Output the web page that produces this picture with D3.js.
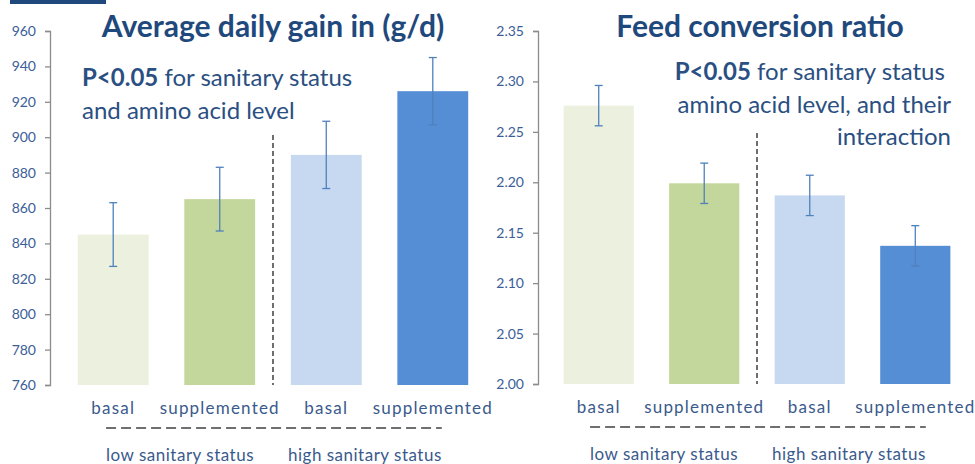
<!DOCTYPE html>
<html>
<head>
<meta charset="utf-8">
<script src="https://cdn.jsdelivr.net/npm/d3@7"></script>
<style>
  body { margin: 0; background: #fff; }
  svg { font-family: Lato, "Open Sans", sans-serif; }
</style>
</head>
<body>
<svg width="975" height="464"></svg>
<script>
// data
var treatments = ['basal', 'supplemented', 'basal', 'supplemented'];
var groups = ['low sanitary status', 'high sanitary status'];
var barColors = ['#ebf1de', '#c3d69b', '#c6d9f1', '#558ed5'];

var adgValues = [845, 865, 890, 926];
var adgErrors = [18, 18, 19, 19];
var adgTicks = [760, 780, 800, 820, 840, 860, 880, 900, 920, 940, 960];

var fcrValues = [2.276, 2.199, 2.187, 2.137];
var fcrErrors = [0.02, 0.02, 0.02, 0.02];
var fcrTicks = [2.00, 2.05, 2.10, 2.15, 2.20, 2.25, 2.30, 2.35];

var svg = d3.select('svg');

// small dark bar top left
svg.append('rect')
  .attr('x', 10).attr('y', 0).attr('width', 96).attr('height', 4)
  .attr('fill', '#1f497d');

function drawChart(opt) {
  var g = svg.append('g');
  var y = d3.scaleLinear().domain(opt.domain).range([opt.bottom, opt.top]);
  var x = d3.scaleBand()
    .domain(d3.range(treatments.length))
    .range(opt.xRange)
    .paddingInner(0.335)
    .paddingOuter(0.167);
  var bw = x.bandwidth();

  // axis
  var axis = d3.axisLeft(y).tickValues(opt.ticks).tickSize(5).tickPadding(9)
    .tickFormat(opt.fmt);
  var ax = g.append('g').attr('transform', 'translate(' + opt.axisX + ',0)').call(axis);
  ax.select('.domain').attr('stroke', '#8c8c8c').attr('stroke-width', 1.3);
  ax.selectAll('.tick line').attr('stroke', '#8c8c8c').attr('stroke-width', 1.3);
  ax.selectAll('.tick text')
    .attr('fill', '#3b5e98')
    .style('font-size', '14px')
    .style('font-family', 'Lato, sans-serif');

  // bars
  g.selectAll('rect.bar').data(opt.values).enter().append('rect')
    .attr('class', 'bar')
    .attr('x', function(d, i){ return x(i); })
    .attr('y', function(d){ return y(d); })
    .attr('width', bw)
    .attr('height', function(d){ return opt.bottom - y(d); })
    .attr('fill', function(d, i){ return barColors[i]; });

  // error bars
  var eb = g.selectAll('g.err').data(opt.values).enter().append('g')
    .attr('stroke', '#4f81bd').attr('stroke-width', 1.3);
  eb.append('line')
    .attr('x1', function(d, i){ return x(i) + bw / 2; })
    .attr('x2', function(d, i){ return x(i) + bw / 2; })
    .attr('y1', function(d, i){ return y(d + opt.errors[i]); })
    .attr('y2', function(d, i){ return y(d - opt.errors[i]); });
  [1, -1].forEach(function(s){
    eb.append('line')
      .attr('x1', function(d, i){ return x(i) + bw / 2 - 4; })
      .attr('x2', function(d, i){ return x(i) + bw / 2 + 4; })
      .attr('y1', function(d, i){ return y(d + s * opt.errors[i]); })
      .attr('y2', function(d, i){ return y(d + s * opt.errors[i]); });
  });

  // divider
  var divX = x(1) + bw + (x(2) - x(1) - bw) / 2;
  g.append('line')
    .attr('x1', divX).attr('x2', divX)
    .attr('y1', opt.divTop).attr('y2', opt.bottom)
    .attr('stroke', '#222').attr('stroke-width', 1.3)
    .attr('stroke-dasharray', '5,3');

  // treatment labels
  g.selectAll('text.treat').data(treatments).enter().append('text')
    .attr('x', function(d, i){ return x(i) + bw / 2; })
    .attr('y', opt.bottom + 29)
    .attr('text-anchor', 'middle')
    .attr('fill', '#3a5a8c')
    .style('font-size', '17px')
    .style('letter-spacing', '1.2px')
    .text(function(d){ return d; });

  // group labels
  var gy = opt.bottom + 76;
  var low = g.append('text')
    .attr('x', divX - 19).attr('y', gy)
    .attr('text-anchor', 'end')
    .attr('fill', '#3a5a8c')
    .style('font-size', '17px')
    .style('letter-spacing', '0.5px')
    .text(groups[0]);
  var high = g.append('text')
    .attr('x', divX + 15).attr('y', gy)
    .attr('text-anchor', 'start')
    .attr('fill', '#3a5a8c')
    .style('font-size', '17px')
    .style('letter-spacing', '0.5px')
    .text(groups[1]);
  var b0 = low.node().getBBox(), b1 = high.node().getBBox();
  g.append('line')
    .attr('x1', b0.x).attr('x2', b1.x + b1.width)
    .attr('y1', opt.bottom + 43).attr('y2', opt.bottom + 43)
    .attr('stroke', '#404040').attr('stroke-width', 1.5)
    .attr('stroke-dasharray', '10,5');

  // title
  g.append('text')
    .attr('x', opt.titleX).attr('y', 37)
    .attr('text-anchor', 'middle')
    .attr('fill', '#1f497d')
    .style('font-size', '30px')
    .style('font-weight', 'bold')
    .text(opt.title);

  // annotation
  opt.note.forEach(function(line, k){
    var t = g.append('text')
      .attr('x', opt.noteX).attr('y', opt.noteY + k * 32.5)
      .attr('text-anchor', opt.noteAnchor)
      .attr('fill', '#2a4f82')
      .style('font-size', '24px');
    line.forEach(function(part){
      t.append('tspan').style('font-weight', part.bold ? 'bold' : 'normal').text(part.t);
    });
  });
}

drawChart({
  domain: [760, 960], ticks: adgTicks, fmt: d3.format('d'),
  values: adgValues, errors: adgErrors,
  top: 31, bottom: 385, axisX: 50, xRange: [60, 486], divTop: 135,
  title: 'Average daily gain in (g/d)', titleX: 273,
  noteX: 82, noteY: 86, noteAnchor: 'start',
  note: [
    [{t: 'P<0.05', bold: true}, {t: ' for sanitary status'}],
    [{t: 'and amino acid level'}]
  ]
});

drawChart({
  domain: [2.00, 2.35], ticks: fcrTicks, fmt: d3.format('.2f'),
  values: fcrValues, errors: fcrErrors,
  top: 31, bottom: 384, axisX: 538, xRange: [546, 968], divTop: 133,
  title: 'Feed conversion ratio', titleX: 760,
  noteX: 951, noteY: 80, noteAnchor: 'end',
  note: [
    [{t: 'P<0.05', bold: true}, {t: ' for sanitary status\u00a0'}],
    [{t: 'amino acid level, and their'}],
    [{t: 'interaction'}]
  ]
});
</script>
</body>
</html>
